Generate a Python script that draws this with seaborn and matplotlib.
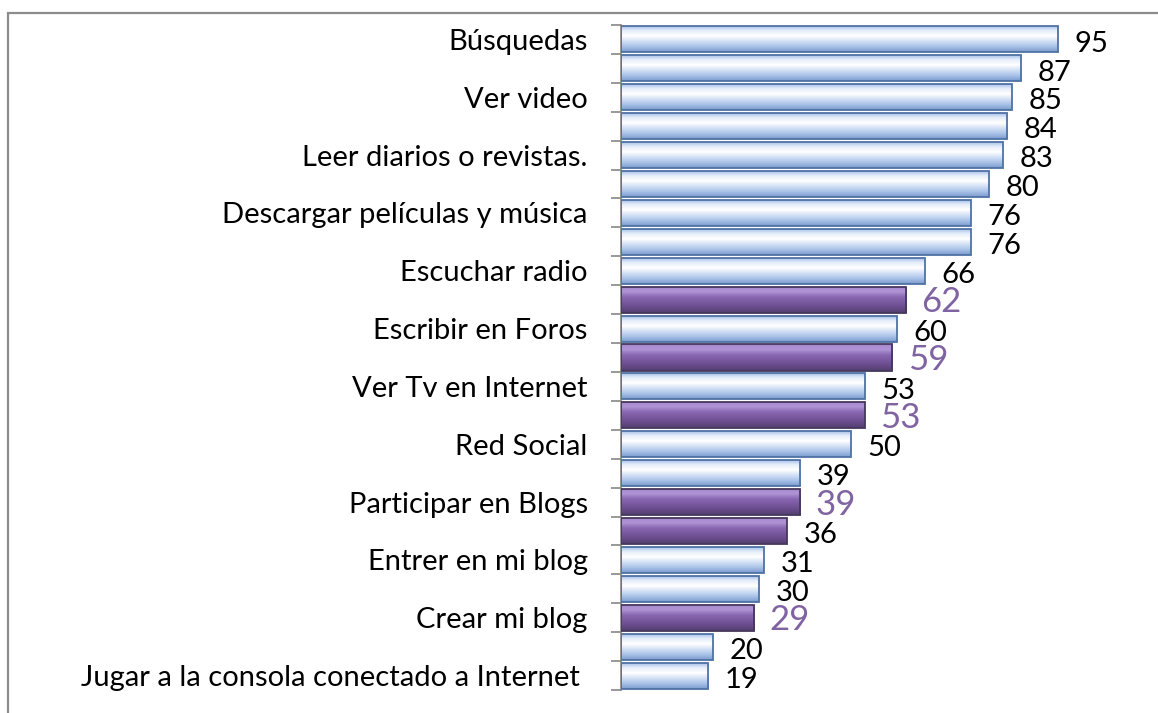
import matplotlib
matplotlib.use('Agg')
import numpy as np
import pandas as pd
import seaborn as sns
import matplotlib.pyplot as plt
from matplotlib.colors import LinearSegmentedColormap
from matplotlib.patches import Rectangle

# data (top to bottom)
ids = ['c%02d' % i for i in range(23)]
tick_labels = ['Búsquedas', '', 'Ver video', '', 'Leer diarios o revistas.', '',
               'Descargar películas y música', '', 'Escuchar radio', '',
               'Escribir en Foros', '', 'Ver Tv en Internet', '', 'Red Social', '',
               'Participar en Blogs', '', 'Entrer en mi blog', '', 'Crear mi blog', '',
               'Jugar a la consola conectado a Internet ']
values = [95, 87, 85, 84, 83, 80, 76, 76, 66, 62, 60, 59, 53, 53, 50, 39, 39, 36, 31, 30, 29, 20, 19]
group = ['normal'] * 23
for i in [9, 11, 13, 16, 17, 20]:
    group[i] = 'destacado'
big_label = [9, 11, 13, 16, 20]

df = pd.DataFrame({'id': ids, 'valor': values, 'grupo': group})

sns.set_theme(style='white')
plt.rcParams['font.family'] = ['Lato', 'DejaVu Sans']

fig = plt.figure(figsize=(11.58, 7.13), dpi=100)
ax = fig.add_axes([621 / 1158, 1 - 690 / 713, (1081 - 621) / 1158, (690 - 25) / 713])

sns.barplot(data=df, x='valor', y='id', hue='grupo', hue_order=['normal', 'destacado'],
            palette=['#c5d8f2', '#7e5fa0'], dodge=False, width=0.9, legend=False, ax=ax,
            orient='h')

# gradient fill to imitate the bevelled bars
cmaps = [LinearSegmentedColormap.from_list('b', ['#9ab7e4', '#e6eefa', '#ffffff', '#d2e0f5', '#a9c2e8', '#7c9bcd']),
         LinearSegmentedColormap.from_list('p', ['#a686cf', '#b095d6', '#8a68b2', '#7a599f', '#684b8b', '#523f6d'])]
edges = ['#4f72a6', '#46385c']
grad = np.linspace(0, 1, 64).reshape(-1, 1)
for cont, cmap, ec in zip(ax.containers, cmaps, edges):
    for p in cont:
        x0, y0, w, h = p.get_x(), p.get_y(), p.get_width(), p.get_height()
        if np.isnan(w) or w == 0:
            continue
        im = ax.imshow(grad, extent=(x0, x0 + w, y0 + h, y0), origin='upper',
                       aspect='auto', cmap=cmap, zorder=2, interpolation='bilinear')
        im.set_clip_path(p)
        p.set_facecolor('none')
        p.set_edgecolor(ec)
        p.set_linewidth(1.3)
        p.set_zorder(3)

for i, v in enumerate(values):
    if i in big_label:
        ax.annotate(str(v), (v, i), xytext=(11, -2), textcoords='offset points',
                    va='center', ha='left', fontsize=25, color='#8064a2')
    else:
        ax.annotate(str(v), (v, i), xytext=(12, -3), textcoords='offset points',
                    va='center', ha='left', fontsize=21, color='black')

ax.set_xlim(0, 100)
ax.set_ylim(22.5, -0.5)
ax.set_xlabel('')
ax.set_ylabel('')
ax.set_xticks([])
ax.set_yticks(range(23))
ax.set_yticklabels(tick_labels, fontsize=21, color='black')
ax.set_yticks(np.arange(-0.5, 23, 1), minor=True)
ax.tick_params(axis='y', which='major', length=0, pad=24)
ax.tick_params(axis='y', which='minor', length=7, width=1.2, color='#868686', left=True)
for s in ['top', 'right', 'bottom']:
    ax.spines[s].set_visible(False)
ax.spines['left'].set_color('#868686')
ax.spines['left'].set_linewidth(1.2)

# outer chart frame
fig.add_artist(Rectangle((8 / 1158, -0.5), 1.5, 1 - 13 / 713 + 0.5, transform=fig.transFigure,
                         fill=False, edgecolor='#8c8c8c', linewidth=1.6, clip_on=False))

fig.savefig('out.png', dpi=100)
